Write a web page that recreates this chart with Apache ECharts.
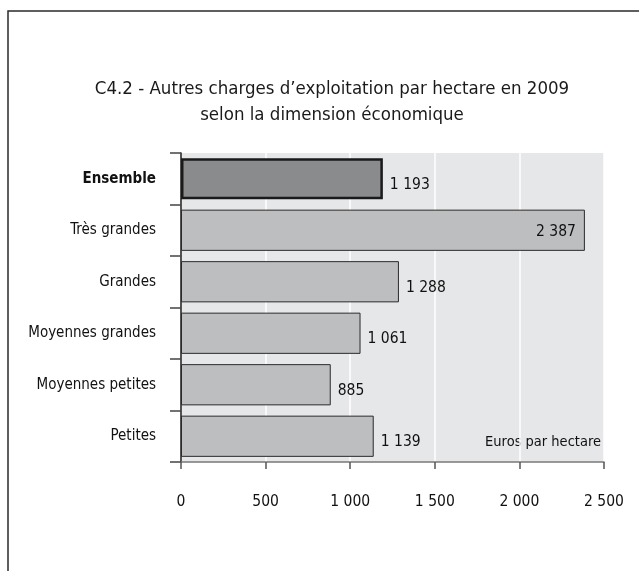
<!DOCTYPE html>
<html>
<head>
<meta charset="utf-8">
<script src="https://cdn.jsdelivr.net/npm/echarts@6/dist/echarts.min.js"></script>
<style>
html,body{margin:0;padding:0;background:#fff;}
#chart{width:639px;height:571px;}
</style>
</head>
<body>
<div id="chart"></div>
<script>
var titleLines = ['C4.2 - Autres charges d\u2019exploitation par hectare en 2009', 'selon la dimension \u00e9conomique'];
var categories = ['Ensemble', 'Tr\u00e8s grandes', 'Grandes', 'Moyennes grandes', 'Moyennes petites', 'Petites'];
var values = [1193, 2387, 1288, 1061, 885, 1139];
var xTicks = [0, 500, 1000, 1500, 2000, 2500];
var unitLabel = 'Euros par hectare';

var FONT = "'DejaVu Sans Condensed', 'Liberation Sans Narrow', sans-serif";
function fmt(v) {
  return String(v).replace(/\B(?=(\d{3})+(?!\d))/g, ' ');
}

var chart = echarts.init(document.getElementById('chart'));
var data = values.map(function (v, i) {
  var d = { value: v };
  if (i === 0) {
    d.itemStyle = { color: '#8a8b8d', borderColor: '#1a1a1a', borderWidth: 2.5 };
  }
  if (v === Math.max.apply(null, values)) {
    d.label = { position: 'insideRight', offset: [-2, 2] };
  }
  return d;
});

chart.setOption({
  animation: false,
  backgroundColor: '#ffffff',
  title: {
    text: titleLines.join('\n'),
    left: 327,
    top: 71,
    textAlign: 'center',
    textStyle: { fontFamily: FONT, fontSize: 18.5, fontWeight: 'normal', color: '#1a1a1a', lineHeight: 26 }
  },
  grid: {
    left: 181, right: 35, top: 153, bottom: 109,
    show: true, backgroundColor: '#e6e7e8', borderWidth: 0
  },
  xAxis: {
    type: 'value',
    min: xTicks[0],
    max: xTicks[xTicks.length - 1],
    interval: xTicks[1] - xTicks[0],
    axisLine: { show: true, lineStyle: { color: '#7a7a7a', width: 1.5 } },
    axisTick: { show: true, length: 7, lineStyle: { color: '#555', width: 1.5 } },
    splitLine: { show: true, lineStyle: { color: '#ffffff', width: 1.5 } },
    axisLabel: {
      margin: 32,
      fontFamily: FONT, fontSize: 15.5, color: '#111',
      formatter: function (v) { return fmt(v); }
    }
  },
  yAxis: {
    type: 'category',
    data: categories,
    inverse: true,
    axisLine: { show: true, lineStyle: { color: '#1a1a1a', width: 1.5 } },
    axisTick: { show: true, length: 11, lineStyle: { color: '#444', width: 1.5 } },
    axisLabel: {
      margin: 25,
      fontFamily: FONT, fontSize: 15, color: '#111',
      formatter: function (v) { return v === categories[0] ? '{b|' + v + '}' : v; },
      rich: { b: { fontFamily: FONT, fontSize: 15, fontWeight: 'bold', color: '#111' } }
    }
  },
  series: [{
    type: 'bar',
    data: data,
    barCategoryGap: '20%',
    itemStyle: { color: '#bdbec0', borderColor: '#2a2a2a', borderWidth: 1 },
    label: {
      show: true,
      position: 'right',
      distance: 7,
      offset: [0, 6],
      fontFamily: FONT, fontSize: 15.5, color: '#111',
      formatter: function (p) { return fmt(p.value); }
    }
  }],
  graphic: [
    {
      type: 'rect',
      shape: { x: 8, y: 11, width: 700, height: 620 },
      style: { fill: 'none', stroke: '#2a2a2a', lineWidth: 1.5 },
      silent: true
    },
    {
      type: 'text',
      x: 601, y: 442,
      style: {
        text: unitLabel, fontFamily: FONT, fontSize: 14.5, fill: '#111',
        align: 'right', verticalAlign: 'middle'
      },
      silent: true
    }
  ]
});
</script>
</body>
</html>
